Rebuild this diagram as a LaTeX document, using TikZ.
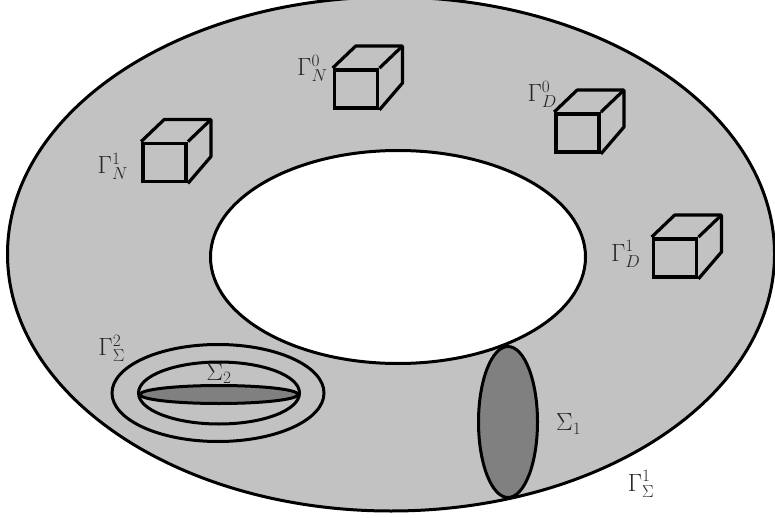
\documentclass[tikz,border=0pt]{standalone}
\usepackage{color}
\definecolor{ringgray}{rgb}{0.76,0.76,0.76}
\definecolor{cutgray}{rgb}{0.5,0.5,0.5}
\usetikzlibrary{calc,shapes.geometric,positioning}
\tikzset{
	surface/.style={
		draw, ellipse, line width=3pt, inner sep=0pt
	},
	cubefront/.style={
		draw, rectangle, line width=3.8pt, inner sep=0pt,
		minimum width=43pt, minimum height=38pt
	},
	cubeedge/.style={line width=3.2pt, line join=round},
	mark_label/.style={inner sep=0pt, text=black!85, font=\fontsize{23}{26}\selectfont}
}
\newcommand{\cubeback}[1]{
	\draw[cubeedge] (#1.north west) -- ++(23,-22) -| ($(#1.north east)+(23,-22)$) -- ++(0,37) -- (#1.south east);
	\draw[cubeedge] (#1.north east) -- ++(23,-22);
}
\begin{document}
\begin{tikzpicture}[x=1pt,y=-1pt]
	\useasboundingbox (0,0) rectangle (775,518);
	\clip (0,0) rectangle (775,518);
	\node[surface, fill=ringgray, minimum width=767pt, minimum height=514pt] (outer) at (391,254) {};
	\node[surface, fill=white, minimum width=375pt, minimum height=213pt] (inner) at (398,257) {};
	\node[surface, fill=cutgray, minimum width=59pt, minimum height=151pt] (cutone) at (508,422) {};
	\node[surface, minimum width=212pt, minimum height=97pt] (ringout) at (218,393) {};
	\node[surface, minimum width=161pt, minimum height=62pt] (ringin) at (219,393) {};
	\node[surface, fill=cutgray, minimum width=158pt, minimum height=18pt] (cuttwo) at (219,394.5) {};
	\node[cubefront] (N1) at (164.5,162.5) {};
	\node[cubefront] (N0) at (356,89) {};
	\node[cubefront] (D0) at (577.5,133) {};
	\node[cubefront] (D1) at (675,258) {};
	\foreach \c in {N1,N0,D0,D1}
		\cubeback{\c};
	\node[mark_label, left=13pt of N1.west, yshift=-4pt] (labN1) {$\Gamma_N^1$};
	\node[mark_label, left=5pt of N0.north west] (labN0) {$\Gamma_N^0$};
	\node[mark_label, left=-3pt of D0.north west, yshift=18pt] (labD0) {$\Gamma_D^0$};
	\node[mark_label, left=11pt of D1.west, yshift=4pt] (labD1) {$\Gamma_D^1$};
	\node[mark_label, left=17pt of ringout.north west, yshift=9pt] (labS2) {$\Gamma_\Sigma^2$};
	\node[mark_label, above=0pt of cuttwo] (labC2) {$\Sigma_2$};
	\node[mark_label, right=17pt of cutone, yshift=-2pt] (labC1) {$\Sigma_1$};
	\node[mark_label] (labS1) at (641,484) {$\Gamma_\Sigma^1$};
\end{tikzpicture}
\end{document}
